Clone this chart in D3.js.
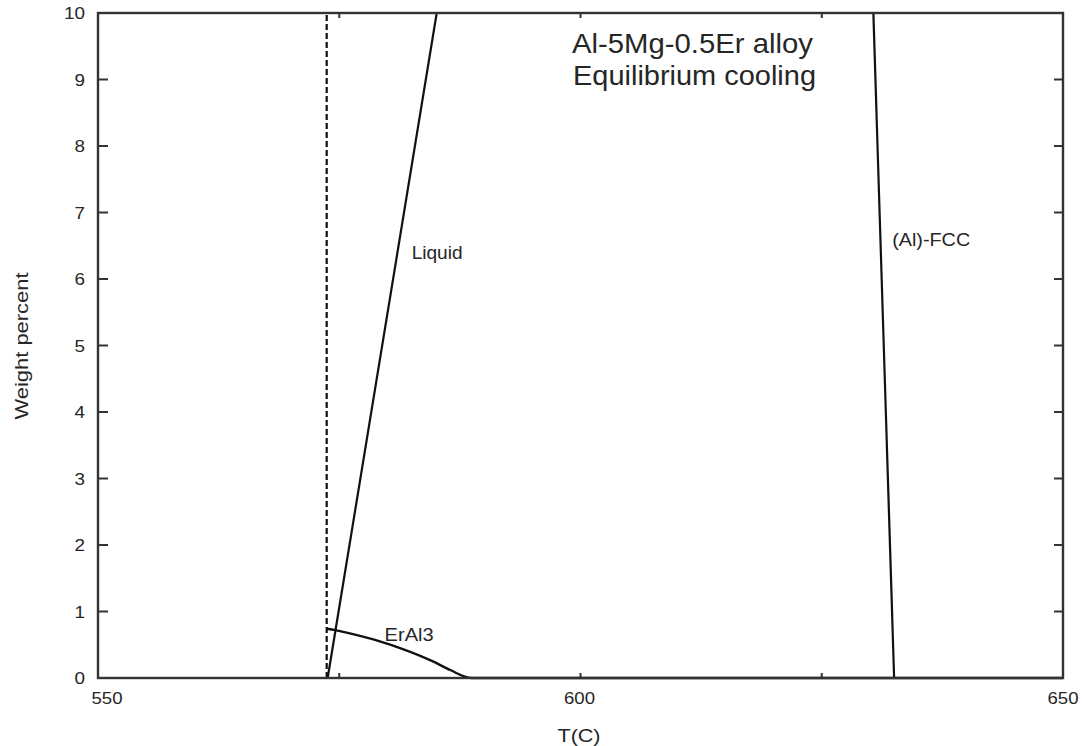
<!DOCTYPE html>
<html><head><meta charset="utf-8">
<script src="https://cdn.jsdelivr.net/npm/d3@7"></script>
<style>
body{margin:0;background:#fff;}
text{font-family:"Liberation Sans",Arial,sans-serif;fill:#262626;}
</style></head>
<body>
<svg id="c" width="1082" height="746"></svg>
<script>
// Data
const liquidT = [573.8, 585.1];
const liquidW = [0, 10];
const fccT = [632.5, 630.35];
const fccW = [0, 10];
const erAl3T = [573.7, 574.6, 576.1, 579.2, 581.3, 584.7, 586.5, 588.7, 650];
const erAl3W = [0.74, 0.72, 0.67, 0.55, 0.45, 0.25, 0.12, 0, 0];
const solidusT = [573.7, 573.7];
const solidusW = [0, 10];
const xTicks = [550, 600, 650];
const xMinor = [575, 625];
const yTicks = [0,1,2,3,4,5,6,7,8,9,10];
const labelText = ["Liquid", "ErAl3", "(Al)-FCC"];
const labelT = [582.5, 579.7, 632.3];
const labelW = [6.3, 0.55, 6.5];
const titleLines = ["Al-5Mg-0.5Er alloy", "Equilibrium cooling"];

const svg = d3.select("#c");
const L = 98, T = 13, R = 1063, B = 678;
const x = d3.scaleLinear().domain([550, 650]).range([L, R]);
const y = d3.scaleLinear().domain([0, 10]).range([B, T]);
const frame = "#333";

// ticks (inward)
const g = svg.append("g");
yTicks.forEach(v => {
  g.append("line").attr("x1", L).attr("x2", L + 10).attr("y1", y(v)).attr("y2", y(v)).attr("stroke", frame).attr("stroke-width", 2);
  g.append("line").attr("x1", R).attr("x2", R - 9).attr("y1", y(v)).attr("y2", y(v)).attr("stroke", frame).attr("stroke-width", 2);
  const t = g.append("text").attr("x", 85).attr("y", y(v) + 6).attr("text-anchor", "end").attr("font-size", 16.5).text(v);
  t.attr("textLength", String(v).length * 10.5).attr("lengthAdjust", "spacingAndGlyphs");
});
xTicks.concat(xMinor).forEach(v => {
  const len = 5;
  g.append("line").attr("x1", x(v)).attr("x2", x(v)).attr("y1", B).attr("y2", B - len).attr("stroke", frame).attr("stroke-width", 2);
  g.append("line").attr("x1", x(v)).attr("x2", x(v)).attr("y1", T).attr("y2", T + len).attr("stroke", frame).attr("stroke-width", 2);
});
xTicks.forEach((v, i) => {
  const dx = i === 0 ? 9 : (i === xTicks.length - 1 ? 0 : -1);
  g.append("text").attr("x", x(v) + dx).attr("y", 704).attr("text-anchor", "middle").attr("font-size", 16.5)
    .attr("textLength", 31).attr("lengthAdjust", "spacingAndGlyphs").text(v);
});

// axis titles
svg.append("text").attr("x", 579).attr("y", 742).attr("text-anchor", "middle").attr("font-size", 19)
  .attr("textLength", 43).attr("lengthAdjust", "spacingAndGlyphs").text("T(C)");
svg.append("text").attr("transform", "translate(28,346) rotate(-90)").attr("text-anchor", "middle").attr("font-size", 19)
  .attr("textLength", 147).attr("lengthAdjust", "spacingAndGlyphs").text("Weight percent");

// lines
const line = d3.line().x(d => x(d[0])).y(d => y(d[1]));
const zip = (a, b) => a.map((v, i) => [v, b[i]]);
svg.append("path").attr("d", line(zip(solidusT, solidusW))).attr("fill", "none").attr("stroke", "#111").attr("stroke-width", 2.2).attr("stroke-dasharray", "6,3");
svg.append("path").attr("d", line(zip(liquidT, liquidW))).attr("fill", "none").attr("stroke", "#111").attr("stroke-width", 2.2);
svg.append("path").attr("d", line(zip(fccT, fccW))).attr("fill", "none").attr("stroke", "#111").attr("stroke-width", 2.2);
svg.append("path").attr("d", d3.line().x(d => x(d[0])).y(d => y(d[1])).curve(d3.curveMonotoneX)(zip(erAl3T, erAl3W))).attr("fill", "none").attr("stroke", "#111").attr("stroke-width", 2.4);

// frame
svg.append("rect").attr("x", L).attr("y", T).attr("width", R - L).attr("height", B - T).attr("fill", "none").attr("stroke", frame).attr("stroke-width", 2.4);

// labels
const labelLen = [51, 49, 78];
labelText.forEach((t, i) => {
  svg.append("text").attr("x", x(labelT[i])).attr("y", y(labelW[i])).attr("font-size", 17.5)
    .attr("textLength", labelLen[i]).attr("lengthAdjust", "spacingAndGlyphs").text(t);
});
const titleLen = [241, 243];
titleLines.forEach((t, i) => {
  svg.append("text").attr("x", 572 + i).attr("y", 53 + i * 32).attr("font-size", 27.5)
    .attr("textLength", titleLen[i]).attr("lengthAdjust", "spacingAndGlyphs").text(t);
});
</script>
</body></html>
